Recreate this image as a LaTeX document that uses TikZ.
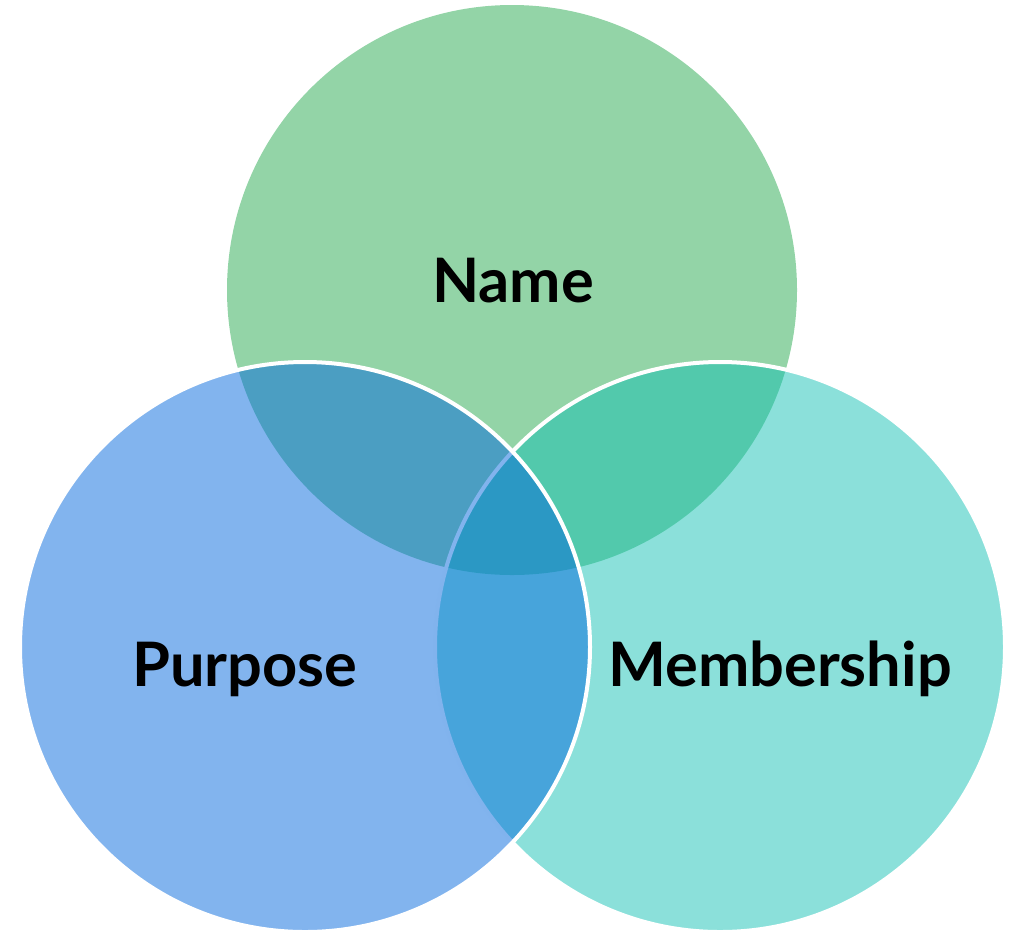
\documentclass[tikz,border=0pt]{standalone}
\usepackage{fontspec}
\setmainfont{Lato}

\definecolor{namegreen}{RGB}{147,212,167}
\definecolor{purposeblue}{RGB}{5,105,221}
\definecolor{memberteal}{RGB}{12,191,178}

\begin{document}
\begin{tikzpicture}[x=0.75pt, y=-0.75pt,
    setcircle/.style={circle, minimum size=427.5pt, inner sep=0pt},
    rimmed/.style={draw=white, line width=3pt},
    setlabel/.style={font=\fontsize{46}{55}\selectfont\bfseries, text=black}]
  \useasboundingbox (0,0) rectangle (1013,933);

  % Draw the "Name" set first, solid and without a rim
  \node[setcircle, fill=namegreen] (nameset) at (512,290) {};
  % Draw the "Membership" set over it, half transparent
  \node[setcircle, rimmed, fill=memberteal, fill opacity=0.48] (memberset) at (720,647) {};
  % Draw the "Purpose" set on top of both
  \node[setcircle, rimmed, fill=purposeblue, fill opacity=0.5] (purposeset) at (305,647) {};

  % Put the labels inside the sets
  \node[setlabel] (namelabel) at (513,281) {Name};
  \node[setlabel] (purposelabel) at (245,669) {Purpose};
  \node[setlabel] (memberlabel) at (780,669) {Membership};

\end{tikzpicture}
\end{document}
